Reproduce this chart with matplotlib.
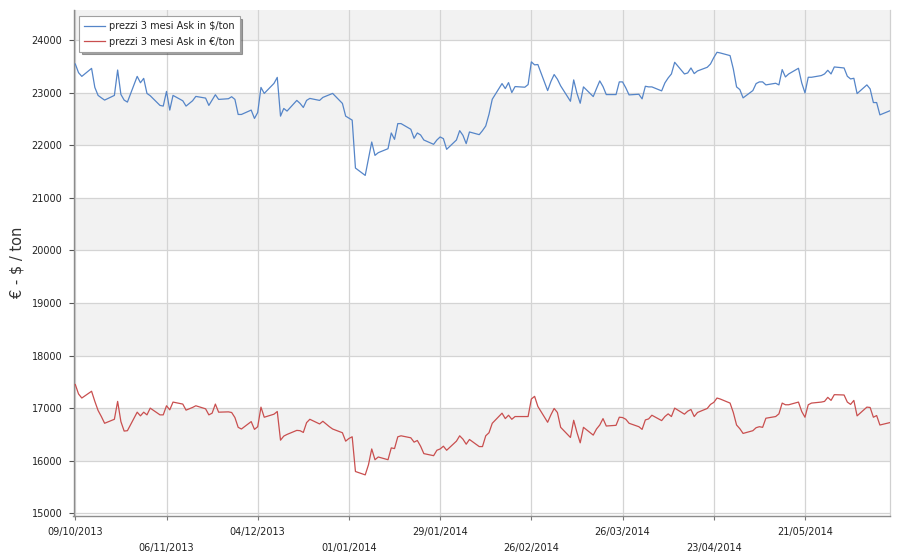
import matplotlib
matplotlib.use('Agg')
import matplotlib.pyplot as plt
import matplotlib.dates as mdates
import pandas as pd

start_date = '2013-10-09'

usd = [23543, 23378, 23308, 23460, 23098, 22946, 22900, 22857, 22946, 23429,
       22965, 22857, 22819, 23308, 23187, 23270, 22984, 22940, 22756, 22743,
       23022, 22667, 22946, 22844, 22743, 22794, 22844, 22927, 22895, 22756,
       22857, 22959, 22870, 22883, 22921, 22870, 22584, 22584, 22667, 22508,
       22622, 23098, 22984, 23175, 23289, 22552, 22698, 22648, 22851, 22794,
       22717, 22851, 22889, 22851, 22908, 22933, 22959, 22984, 22794, 22552,
       22514, 22476,
       21565, 21425, 21743, 22060, 21806, 21857, 21933, 22232, 22111, 22410,
       22410, 22302, 22130, 22232, 22194, 22098, 22016, 22098, 22156, 22124,
       21921, 22098, 22276, 22187, 22029, 22251, 22200, 22276, 22365, 22587,
       22873, 23171, 23076, 23190, 23000, 23114, 23102, 23152, 23584, 23527,
       23533, 23038, 23210, 23343, 23254, 23127, 22835, 23241, 22987, 22797,
       23108, 22924, 23076, 23222, 23114, 22962, 22962, 23203,
       23203, 23089, 22956, 22968, 22880, 23120, 23108, 23108, 23032, 23184,
       23278, 23354, 23576, 23354, 23373, 23468, 23361, 23411, 23481, 23544,
       23665, 23766, 23753, 23703, 23449, 23108, 23057, 22899, 23038, 23171,
       23203, 23203, 23146, 23177, 23146, 23437, 23297, 23354, 23462, 23184,
       22994, 23291, 23291, 23323, 23354, 23424, 23354, 23487, 23468, 23310,
       23259, 23272, 22981, 23146, 23070, 22810, 22810, 22576, 22652]

eur = [17449, 17269, 17192, 17321, 17128, 16955, 16840, 16712, 16788, 17128,
       16744, 16564, 16571, 16923, 16853, 16923, 16872, 17000, 16872, 16872,
       17045, 16968, 17115, 17077, 16962, 16987, 17013, 17045, 16987, 16872,
       16904, 17077, 16923, 16929, 16917, 16821, 16635, 16603, 16744, 16596,
       16647, 17019, 16827, 16885, 16936, 16391, 16468, 16500, 16577, 16571,
       16538, 16724, 16788, 16699, 16750, 16699, 16647, 16603, 16532, 16372,
       16423, 16455,
       15795, 15731, 15923, 16224, 16019, 16071, 16019, 16244, 16231, 16455,
       16474, 16436, 16353, 16385, 16276, 16135, 16096, 16199, 16224, 16276,
       16199, 16372, 16474, 16410, 16314, 16404, 16269, 16269, 16474, 16532,
       16712, 16904, 16801, 16865, 16788, 16840, 16840, 16840, 17173, 17224,
       17032, 16731, 16872, 16994, 16917, 16635, 16442, 16769, 16538, 16340,
       16635, 16487, 16603, 16679, 16801, 16660, 16673, 16827,
       16821, 16788, 16712, 16647, 16596, 16776, 16795, 16865, 16763, 16840,
       16891, 16840, 17000, 16885, 16942, 16974, 16840, 16917, 16994, 17071,
       17109, 17192, 17173, 17096, 16917, 16679, 16609, 16519, 16571, 16628,
       16647, 16635, 16808, 16840, 16891, 17096, 17064, 17064, 17115, 16936,
       16827, 17064, 17096, 17115, 17128, 17205, 17147, 17256, 17250, 17115,
       17071, 17147, 16853, 17019, 17013, 16827, 16859, 16679, 16724]

tick_labels = ['09/10/2013', '06/11/2013', '04/12/2013', '01/01/2014', '29/01/2014',
               '26/02/2014', '26/03/2014', '23/04/2014', '21/05/2014']
y_ticks = [15000, 16000, 17000, 18000, 19000, 20000, 21000, 22000, 23000, 24000]
band_starts = [16000, 18000, 20000, 22000, 24000]

series_labels = ['prezzi 3 mesi Ask in $/ton', 'prezzi 3 mesi Ask in €/ton']
y_label = '€ - $ / ton'

dates = pd.bdate_range(start_date, periods=len(usd))
tick_dates = pd.to_datetime(tick_labels, format='%d/%m/%Y')

plt.rcParams['font.family'] = ['DejaVu Sans']

fig = plt.figure(figsize=(9, 5.6), dpi=100)
ax = fig.add_axes([73.5 / 900, 1 - 516 / 560, 816.5 / 900, 506 / 560])
ax.set_facecolor('white')

for lo in band_starts:
    ax.axhspan(lo, lo + 1000, color='#f2f2f2', lw=0, zorder=0)

ax.plot(dates, usd, color='#5585c8', lw=0.9, label=series_labels[0], zorder=3)
ax.plot(dates, eur, color='#c94f4f', lw=0.9, label=series_labels[1], zorder=3)

ax.set_yticks(y_ticks)
ax.set_yticklabels([str(v) for v in y_ticks])
ax.set_ylim(14949, 24570)

ax.set_xticks(tick_dates[::2])
ax.set_xticklabels(tick_labels[::2])
ax.set_xticks(tick_dates[1::2], minor=True)
ax.set_xticklabels(tick_labels[1::2], minor=True)

ax.grid(axis='y', color='#d4d4d4', lw=0.9, zorder=1)
ax.grid(axis='x', which='both', color='#d4d4d4', lw=0.9, zorder=1)
ax.set_axisbelow(True)

ax.tick_params(axis='x', which='both', length=3, width=0.8, color='#777777',
               labelsize=7, labelcolor='#222222', direction='out')
ax.tick_params(axis='x', which='major', pad=5)
ax.tick_params(axis='x', which='minor', pad=16.5)
ax.tick_params(axis='y', length=3.6, width=0.8, color='#555555', labelsize=7,
               labelcolor='#222222', pad=4.5)

for side in ['left', 'bottom']:
    ax.spines[side].set_color('#8c8c8c')
    ax.spines[side].set_linewidth(1.0)
ax.spines['right'].set_color('#d0d0d0')
ax.spines['right'].set_linewidth(0.9)
ax.spines['top'].set_visible(False)

x0 = mdates.date2num(dates[0]) - 0.55
x1 = mdates.date2num(dates[-1]) + 0.1
ax.set_xlim(x0, x1)

fig.text(17 / 900, 1 - 262 / 560, y_label, rotation=90, ha='center', va='center',
         fontsize=10.5, color='#333333')

leg = ax.legend(loc='upper left', bbox_to_anchor=(0.0067, 0.988), borderaxespad=0,
                fontsize=7, frameon=True, fancybox=False, shadow=True,
                handlelength=2.2, handletextpad=0.4, borderpad=0.5,
                labelspacing=0.6)
leg.get_frame().set_edgecolor('#a0a0a0')
leg.get_frame().set_linewidth(0.8)
leg.get_frame().set_facecolor('white')
leg.get_frame().set_alpha(1)
for t in leg.get_texts():
    t.set_color('#222222')

fig.savefig('out.png', dpi=100)
